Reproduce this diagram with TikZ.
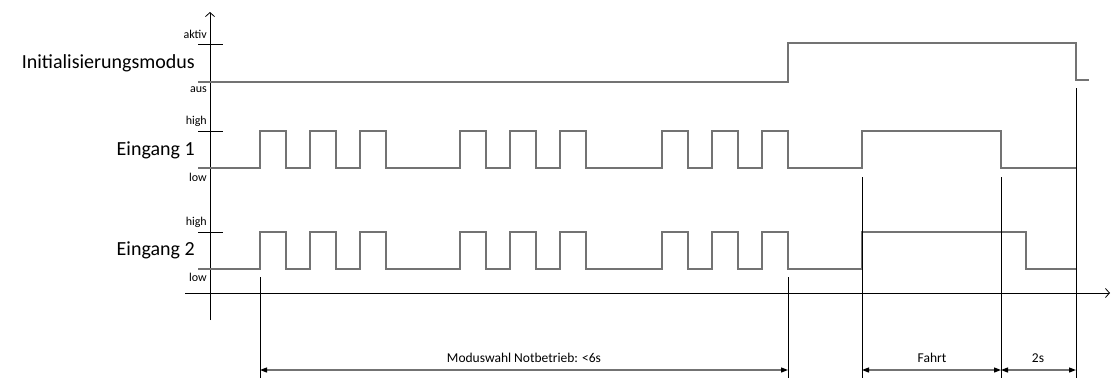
\documentclass[tikz,border=0pt]{standalone}
\usepackage{fontspec}
\setmainfont{Carlito}
\usetikzlibrary{arrows.meta}

\begin{document}
\begin{tikzpicture}[x=1pt,y=-1pt]
        \tikzstyle{every node}+=[inner sep=0pt]
        \tikzstyle{signal}=[draw=black!55, line width=1.2pt]
        \tikzstyle{axis}=[draw=black, line width=0.8pt, -{Straight Barb[length=4pt,width=9pt]}]
        \tikzstyle{marker}=[draw=black, line width=0.9pt]
        \tikzstyle{dim}=[draw=black!55, line width=1.2pt, {Triangle[length=7pt,width=5pt,color=black]}-{Triangle[length=7pt,width=5pt,color=black]}]
        \tikzstyle{small}=[anchor=east, font=\fontsize{12}{13}\selectfont]
        \tikzstyle{big}=[anchor=east, font=\fontsize{20}{22}\selectfont]
        \tikzstyle{dimtext}=[fill=white, inner sep=1pt, font=\fontsize{13.5}{15}\selectfont]
        \useasboundingbox (0,0) rectangle (1114,378);
        % axes
        \draw [axis] (210,320) -- (210,12);
        \draw [axis] (185,293) -- (1110,293);
        % ticks
        \draw [black] (198,44) -- (223,44);
        \draw [black] (198,131) -- (223,131);
        \draw [black] (198,232) -- (223,232);
        % level labels
        \node [small] (aktiv) at (207,34) {aktiv};
        \node [small] (aus) at (207,90) {aus};
        \node [small] (high1) at (207,121) {high};
        \node [small] (low1) at (207,177) {low};
        \node [small] (high2) at (207,222) {high};
        \node [small] (low2) at (207,277) {low};
        % signal names
        \node [big] (init) at (195,63) {Initialisierungsmodus};
        \node [big] (ein1) at (195,150) {Eingang 1};
        \node [big] (ein2) at (195,250) {Eingang 2};
        % Initialisierungsmodus
        \draw [signal] (198,82) -- (788,82) -- (788,43) -- (1076,43) -- (1076,80) -- (1089,80);
        % Eingang 1
        \draw [signal] (198,168) foreach \x in {260,310,360,460,510,560,662,712,762}
            { -- (\x,168) -- (\x,131) -- ({\x+26},131) -- ({\x+26},168) }
            -- (862,168) -- (862,131) -- (1001,131) -- (1001,168) -- (1076,168);
        % Eingang 2
        \draw [signal] (198,269) foreach \x in {260,310,360,460,510,560,662,712,762}
            { -- (\x,269) -- (\x,232) -- ({\x+26},232) -- ({\x+26},269) }
            -- (862,269) -- (862,232) -- (1026,232) -- (1026,269) -- (1076,269);
        % markers
        \coordinate (m1) at (260,370);
        \coordinate (m2) at (788,370);
        \coordinate (m3) at (862,370);
        \coordinate (m4) at (1001,370);
        \coordinate (m5) at (1076,370);
        \draw [marker] (260,277) -- (260,378);
        \draw [marker] (788,277) -- (788,378);
        \draw [marker] (862,177) -- (862,378);
        \draw [marker] (1001,177) -- (1001,378);
        \draw [marker] (1076,88) -- (1076,378);
        % dimensions
        \draw [dim] (m1) -- (m2);
        \draw [dim] (m3) -- (m4);
        \draw [dim] (m4) -- (m5);
        \node [dimtext] (modus) at (524,358) {Moduswahl Notbetrieb: <6s};
        \node [dimtext] (fahrt) at (932,358) {Fahrt};
        \node [dimtext] (zwei) at (1038,358) {2s};
\end{tikzpicture}
\end{document}
